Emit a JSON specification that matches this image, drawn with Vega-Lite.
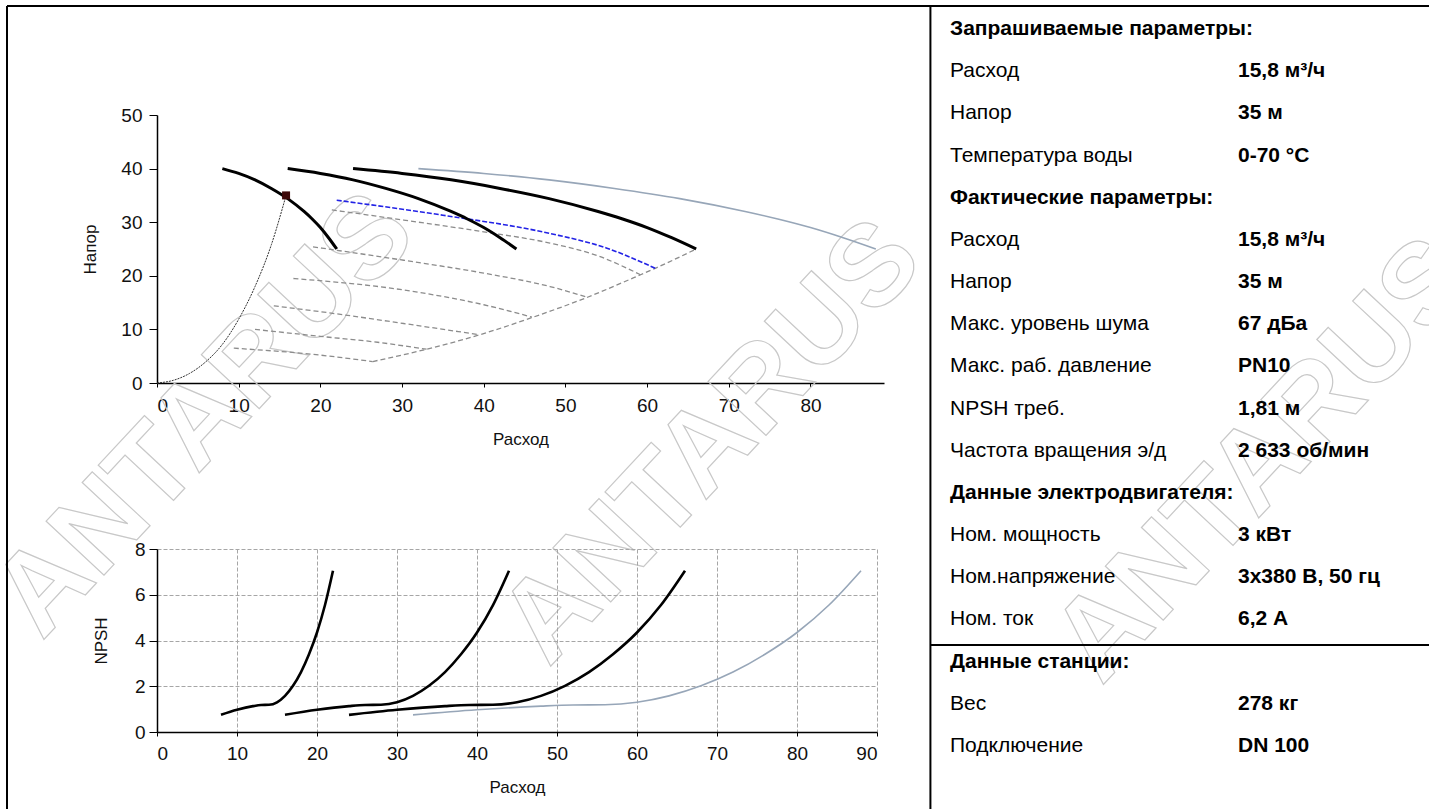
{
  "$schema": "https://vega.github.io/schema/vega-lite/v6.json",
  "autosize": {"type": "none"},
  "padding": {"left": 157, "top": 115, "right": 1272, "bottom": 694},
  "background": "white",
  "bounds": "flush",
  "spacing": 166,
  "config": {
    "view": {"stroke": null},
    "font": "Liberation Sans",
    "axis": {
      "labelFont": "Liberation Sans", "labelFontSize": 19, "labelColor": "#111111",
      "titleFont": "Liberation Sans", "titleFontSize": 17, "titleFontWeight": "normal", "titleColor": "#111111",
      "domainColor": "#000000", "domainWidth": 1.5, "tickColor": "#000000", "tickWidth": 1,
      "gridColor": "#a6a6a6", "gridDash": [4, 2], "gridWidth": 1
    }
  },
  "datasets": {
    "watermark": [{"t": "ANTARUS"}],
    "frame": [{"part": "frame"}],
    "pump": [
      {"n": 1, "q": 8, "h": 40}, {"n": 1, "q": 10, "h": 39.1}, {"n": 1, "q": 12, "h": 37.9}, {"n": 1, "q": 14, "h": 36.3}, {"n": 1, "q": 16, "h": 34.4}, {"n": 1, "q": 18, "h": 32.0}, {"n": 1, "q": 19, "h": 30.6}, {"n": 1, "q": 20, "h": 29.0}, {"n": 1, "q": 21, "h": 27.1}, {"n": 1, "q": 22, "h": 25.0},
      {"n": 2, "q": 16, "h": 40}, {"n": 2, "q": 20, "h": 39.1}, {"n": 2, "q": 24, "h": 37.9}, {"n": 2, "q": 28, "h": 36.3}, {"n": 2, "q": 32, "h": 34.4}, {"n": 2, "q": 36, "h": 32.0}, {"n": 2, "q": 38, "h": 30.6}, {"n": 2, "q": 40, "h": 29.0}, {"n": 2, "q": 42, "h": 27.1}, {"n": 2, "q": 44, "h": 25.0},
      {"n": 3, "q": 24, "h": 40}, {"n": 3, "q": 30, "h": 39.1}, {"n": 3, "q": 36, "h": 37.9}, {"n": 3, "q": 42, "h": 36.3}, {"n": 3, "q": 48, "h": 34.4}, {"n": 3, "q": 54, "h": 32.0}, {"n": 3, "q": 57, "h": 30.6}, {"n": 3, "q": 60, "h": 29.0}, {"n": 3, "q": 63, "h": 27.1}, {"n": 3, "q": 66, "h": 25.0},
      {"n": 4, "q": 32, "h": 40}, {"n": 4, "q": 40, "h": 39.1}, {"n": 4, "q": 48, "h": 37.9}, {"n": 4, "q": 56, "h": 36.3}, {"n": 4, "q": 64, "h": 34.4}, {"n": 4, "q": 72, "h": 32.0}, {"n": 4, "q": 76, "h": 30.6}, {"n": 4, "q": 80, "h": 29.0}, {"n": 4, "q": 84, "h": 27.1}, {"n": 4, "q": 88, "h": 25.0}
    ],
    "eff": [
      {"s": "g1", "q": 21.4, "h": 32.3}, {"s": "g1", "q": 30.2, "h": 30.4}, {"s": "g1", "q": 40, "h": 28.2}, {"s": "g1", "q": 48.1, "h": 26.1}, {"s": "g1", "q": 54, "h": 23.7}, {"s": "g1", "q": 59.2, "h": 20.2},
      {"s": "g2", "q": 19.1, "h": 25.4}, {"s": "g2", "q": 30.2, "h": 22.9}, {"s": "g2", "q": 40, "h": 20.5}, {"s": "g2", "q": 48.1, "h": 18.0}, {"s": "g2", "q": 52.7, "h": 16.0},
      {"s": "g3", "q": 16.7, "h": 19.5}, {"s": "g3", "q": 30.2, "h": 17.35}, {"s": "g3", "q": 40, "h": 14.6}, {"s": "g3", "q": 45.9, "h": 12.3},
      {"s": "g4", "q": 14.3, "h": 14.4}, {"s": "g4", "q": 22, "h": 12.9}, {"s": "g4", "q": 30.2, "h": 11.1}, {"s": "g4", "q": 39.5, "h": 9.0},
      {"s": "g5", "q": 12, "h": 10.0}, {"s": "g5", "q": 20, "h": 8.7}, {"s": "g5", "q": 27, "h": 7.6}, {"s": "g5", "q": 33, "h": 6.3},
      {"s": "g6", "q": 9.4, "h": 6.5}, {"s": "g6", "q": 20, "h": 5.2}, {"s": "g6", "q": 26.4, "h": 4.0},
      {"s": "bd", "q": 26.4, "h": 4.0}, {"s": "bd", "q": 33, "h": 6.3}, {"s": "bd", "q": 39.5, "h": 9.0}, {"s": "bd", "q": 45.9, "h": 12.2}, {"s": "bd", "q": 52.7, "h": 16.0}, {"s": "bd", "q": 59.2, "h": 20.2}, {"s": "bd", "q": 61, "h": 21.4}, {"s": "bd", "q": 66, "h": 25}
    ],
    "speed": [
      {"q": 22, "h": 34.1}, {"q": 35, "h": 31.3}, {"q": 48.1, "h": 27.9}, {"q": 55, "h": 25.2}, {"q": 61, "h": 21.4}
    ],
    "system": [
      {"q": 0, "h": 0}, {"q": 2, "h": 0.5}, {"q": 4, "h": 1.8}, {"q": 6, "h": 4.0}, {"q": 8, "h": 7.2}, {"q": 10, "h": 11.9}, {"q": 12, "h": 18.0}, {"q": 14, "h": 25.8}, {"q": 15.8, "h": 35}
    ],
    "duty": [{"q": 15.8, "h": 35}],
    "npsh": [
      {"n": 1, "q": 8, "v": 0.75}, {"n": 1, "q": 10, "v": 0.97}, {"n": 1, "q": 12, "v": 1.13}, {"n": 1, "q": 13, "v": 1.18}, {"n": 1, "q": 14, "v": 1.19}, {"n": 1, "q": 15, "v": 1.3}, {"n": 1, "q": 16, "v": 1.58}, {"n": 1, "q": 17, "v": 2.02}, {"n": 1, "q": 18, "v": 2.62}, {"n": 1, "q": 19, "v": 3.4}, {"n": 1, "q": 20, "v": 4.35}, {"n": 1, "q": 21, "v": 5.55}, {"n": 1, "q": 22, "v": 7.05},
      {"n": 2, "q": 16, "v": 0.75}, {"n": 2, "q": 20, "v": 0.97}, {"n": 2, "q": 24, "v": 1.13}, {"n": 2, "q": 26, "v": 1.18}, {"n": 2, "q": 28, "v": 1.19}, {"n": 2, "q": 30, "v": 1.3}, {"n": 2, "q": 32, "v": 1.58}, {"n": 2, "q": 34, "v": 2.02}, {"n": 2, "q": 36, "v": 2.62}, {"n": 2, "q": 38, "v": 3.4}, {"n": 2, "q": 40, "v": 4.35}, {"n": 2, "q": 42, "v": 5.55}, {"n": 2, "q": 44, "v": 7.05},
      {"n": 3, "q": 24, "v": 0.75}, {"n": 3, "q": 30, "v": 0.97}, {"n": 3, "q": 36, "v": 1.13}, {"n": 3, "q": 39, "v": 1.18}, {"n": 3, "q": 42, "v": 1.19}, {"n": 3, "q": 45, "v": 1.3}, {"n": 3, "q": 48, "v": 1.58}, {"n": 3, "q": 51, "v": 2.02}, {"n": 3, "q": 54, "v": 2.62}, {"n": 3, "q": 57, "v": 3.4}, {"n": 3, "q": 60, "v": 4.35}, {"n": 3, "q": 63, "v": 5.55}, {"n": 3, "q": 66, "v": 7.05},
      {"n": 4, "q": 32, "v": 0.75}, {"n": 4, "q": 40, "v": 0.97}, {"n": 4, "q": 48, "v": 1.13}, {"n": 4, "q": 52, "v": 1.18}, {"n": 4, "q": 56, "v": 1.19}, {"n": 4, "q": 60, "v": 1.3}, {"n": 4, "q": 64, "v": 1.58}, {"n": 4, "q": 68, "v": 2.02}, {"n": 4, "q": 72, "v": 2.62}, {"n": 4, "q": 76, "v": 3.4}, {"n": 4, "q": 80, "v": 4.35}, {"n": 4, "q": 84, "v": 5.55}, {"n": 4, "q": 88, "v": 7.05}
    ],
    "table": [
      {"row": 1, "label": "Запрашиваемые параметры:", "value": "", "header": true},
      {"row": 2, "label": "Расход", "value": "15,8 м³/ч", "header": false},
      {"row": 3, "label": "Напор", "value": "35 м", "header": false},
      {"row": 4, "label": "Температура воды", "value": "0-70 °C", "header": false},
      {"row": 5, "label": "Фактические параметры:", "value": "", "header": true},
      {"row": 6, "label": "Расход", "value": "15,8 м³/ч", "header": false},
      {"row": 7, "label": "Напор", "value": "35 м", "header": false},
      {"row": 8, "label": "Макс. уровень шума", "value": "67 дБа", "header": false},
      {"row": 9, "label": "Макс. раб. давление", "value": "PN10", "header": false},
      {"row": 10, "label": "NPSH треб.", "value": "1,81 м", "header": false},
      {"row": 11, "label": "Частота вращения э/д", "value": "2 633 об/мин", "header": false},
      {"row": 12, "label": "Данные электродвигателя:", "value": "", "header": true},
      {"row": 13, "label": "Ном. мощность", "value": "3 кВт", "header": false},
      {"row": 14, "label": "Ном.напряжение", "value": "3x380 В, 50 гц", "header": false},
      {"row": 15, "label": "Ном. ток", "value": "6,2 А", "header": false},
      {"row": 16, "label": "Данные станции:", "value": "", "header": true},
      {"row": 17, "label": "Вес", "value": "278 кг", "header": false},
      {"row": 18, "label": "Подключение", "value": "DN 100", "header": false}
    ]
  },
  "vconcat": [
    {
      "width": 727,
      "height": 268,
      "layer": [
        {
          "layer": [
            {"data": {"name": "watermark"}, "mark": {"type": "text", "font": "Liberation Sans", "fontWeight": "bold", "fontSize": 115, "angle": 313, "align": "center", "baseline": "middle", "fill": "transparent", "stroke": "#c8c8c8", "strokeWidth": 1.2},
             "encoding": {"x": {"datum": 5.9, "type": "quantitative", "scale": {"domain": [0, 89], "nice": false, "zero": false}}, "y": {"datum": -6.0, "type": "quantitative", "scale": {"domain": [0, 50], "nice": false, "zero": false}}, "text": {"field": "t"}}},
            {"data": {"name": "watermark"}, "mark": {"type": "text", "font": "Liberation Sans", "fontWeight": "bold", "fontSize": 115, "angle": 313, "align": "center", "baseline": "middle", "fill": "transparent", "stroke": "#c8c8c8", "strokeWidth": 1.2},
             "encoding": {"x": {"datum": 67.94, "type": "quantitative", "scale": {"domain": [0, 89], "nice": false, "zero": false}}, "y": {"datum": -11.0, "type": "quantitative", "scale": {"domain": [0, 50], "nice": false, "zero": false}}, "text": {"field": "t"}}},
            {"data": {"name": "watermark"}, "mark": {"type": "text", "font": "Liberation Sans", "fontWeight": "bold", "fontSize": 115, "angle": 313, "align": "center", "baseline": "middle", "fill": "transparent", "stroke": "#c8c8c8", "strokeWidth": 1.2},
             "encoding": {"x": {"datum": 135.6, "type": "quantitative", "scale": {"domain": [0, 89], "nice": false, "zero": false}}, "y": {"datum": -14.4, "type": "quantitative", "scale": {"domain": [0, 50], "nice": false, "zero": false}}, "text": {"field": "t"}}},
            {
              "encoding": {
                "x": {"field": "q", "type": "quantitative", "scale": {"domain": [0, 89], "nice": false, "zero": false},
                      "axis": {"title": "Расход", "values": [0, 10, 20, 30, 40, 50, 60, 70, 80], "tickSize": 4, "labelPadding": 9, "titlePadding": 16}},
                "y": {"field": "h", "type": "quantitative", "scale": {"domain": [0, 50], "nice": false, "zero": false},
                      "axis": {"title": "Напор", "values": [0, 10, 20, 30, 40, 50], "tickSize": 8, "labelPadding": 7, "titlePadding": 21}}
              },
              "layer": [
                {"data": {"name": "eff"}, "mark": {"type": "line", "interpolate": "monotone", "color": "#8c8c8c", "strokeWidth": 1.3, "strokeDash": [5, 3]},
                 "encoding": {"detail": {"field": "s"}}},
                {"data": {"name": "speed"}, "mark": {"type": "line", "interpolate": "monotone", "color": "#2222e6", "strokeWidth": 1.6, "strokeDash": [5, 2]}},
                {"data": {"name": "system"}, "mark": {"type": "line", "interpolate": "monotone", "color": "#333333", "strokeWidth": 1, "strokeDash": [2, 1]}},
                {"data": {"name": "pump"}, "transform": [{"filter": "datum.n == 4"}], "mark": {"type": "line", "interpolate": "monotone", "color": "#97a6b8", "strokeWidth": 1.6},
                 "encoding": {"detail": {"field": "n"}}},
                {"data": {"name": "pump"}, "transform": [{"filter": "datum.n < 4"}], "mark": {"type": "line", "interpolate": "monotone", "color": "#000000", "strokeWidth": 3},
                 "encoding": {"detail": {"field": "n"}}},
                {"data": {"name": "duty"}, "mark": {"type": "square", "size": 64, "color": "#3d0808", "opacity": 1, "filled": true}}
              ]
            }
          ]
        },
        {
          "layer": [
            {"data": {"name": "frame"}, "mark": {"type": "rule", "color": "#000000", "strokeWidth": 2},
             "encoding": {"x": {"datum": -3.2743, "type": "quantitative", "scale": {"domain": [0, 1], "range": [793, 1081], "nice": false, "zero": false}, "axis": null},
                          "y": {"datum": 0.4547, "type": "quantitative", "scale": {"domain": [1, 18], "range": [-86, 631], "nice": false, "zero": false}, "axis": null}, "y2": {"datum": 19.5}}},
            {"data": {"name": "frame"}, "mark": {"type": "rule", "color": "#000000", "strokeWidth": 2},
             "encoding": {"x": {"datum": -3.2743, "type": "quantitative", "scale": {"domain": [0, 1], "range": [793, 1081], "nice": false, "zero": false}, "axis": null}, "x2": {"datum": 1.667},
                          "y": {"datum": 0.4547, "type": "quantitative", "scale": {"domain": [1, 18], "range": [-86, 631], "nice": false, "zero": false}, "axis": null}}},
            {"data": {"name": "frame"}, "mark": {"type": "rule", "color": "#000000", "strokeWidth": 2},
             "encoding": {"x": {"datum": -0.068, "type": "quantitative", "scale": {"domain": [0, 1], "range": [793, 1081], "nice": false, "zero": false}, "axis": null},
                          "y": {"datum": 0.4547, "type": "quantitative", "scale": {"domain": [1, 18], "range": [-86, 631], "nice": false, "zero": false}, "axis": null}, "y2": {"datum": 19.5}}},
            {"data": {"name": "frame"}, "mark": {"type": "rule", "color": "#000000", "strokeWidth": 2},
             "encoding": {"x": {"datum": -0.068, "type": "quantitative", "scale": {"domain": [0, 1], "range": [793, 1081], "nice": false, "zero": false}, "axis": null}, "x2": {"datum": 1.667},
                          "y": {"datum": 15.605, "type": "quantitative", "scale": {"domain": [1, 18], "range": [-86, 631], "nice": false, "zero": false}, "axis": null}}},
            {
              "data": {"name": "table"},
              "encoding": {
                "x": {"datum": 0, "type": "quantitative", "scale": {"domain": [0, 1], "range": [793, 1081], "nice": false, "zero": false}, "axis": null},
                "y": {"field": "row", "type": "quantitative", "scale": {"domain": [1, 18], "range": [-86, 631], "nice": false, "zero": false}, "axis": null}
              },
              "layer": [
                {"transform": [{"filter": "datum.header"}], "mark": {"type": "text", "align": "left", "baseline": "middle", "font": "Liberation Sans", "fontSize": 21, "fontWeight": "bold", "color": "#000000"},
                 "encoding": {"text": {"field": "label"}}},
                {"transform": [{"filter": "!datum.header"}], "mark": {"type": "text", "align": "left", "baseline": "middle", "font": "Liberation Sans", "fontSize": 21, "fontWeight": "normal", "color": "#000000"},
                 "encoding": {"text": {"field": "label"}}},
                {"transform": [{"filter": "!datum.header"}], "mark": {"type": "text", "align": "left", "baseline": "middle", "font": "Liberation Sans", "fontSize": 21, "fontWeight": "bold", "color": "#000000"},
                 "encoding": {"x": {"datum": 1, "type": "quantitative"}, "text": {"field": "value"}}}
              ]
            }
          ]
        }
      ],
      "resolve": {"scale": {"x": "independent", "y": "independent"}}
    },
    {
      "width": 720,
      "height": 183,
      "data": {"name": "npsh"},
      "encoding": {
        "x": {"field": "q", "type": "quantitative", "scale": {"domain": [0, 90], "nice": false, "zero": false},
              "axis": {"title": "Расход", "values": [0, 10, 20, 30, 40, 50, 60, 70, 80, 90], "tickSize": 4, "labelPadding": 8, "titlePadding": 16}},
        "y": {"field": "v", "type": "quantitative", "scale": {"domain": [0, 8], "nice": false, "zero": false},
              "axis": {"title": "NPSH", "values": [0, 2, 4, 6, 8], "tickSize": 8, "labelPadding": 4, "titlePadding": 24}},
        "detail": {"field": "n"}
      },
      "layer": [
        {"transform": [{"filter": "datum.n == 4"}], "mark": {"type": "line", "interpolate": "monotone", "color": "#97a6b8", "strokeWidth": 1.6}},
        {"transform": [{"filter": "datum.n < 4"}], "mark": {"type": "line", "interpolate": "monotone", "color": "#000000", "strokeWidth": 2.6}}
      ]
    }
  ]
}
